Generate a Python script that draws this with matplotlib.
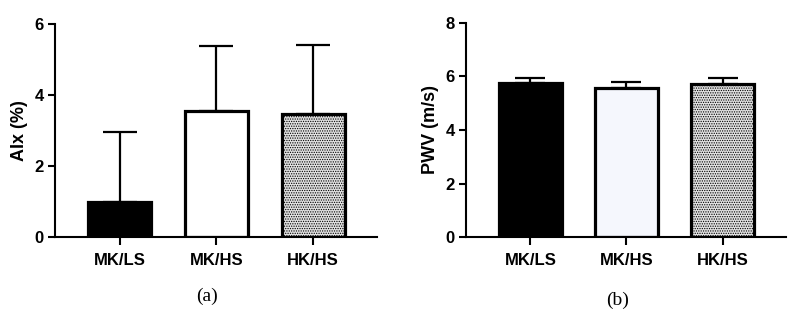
import matplotlib
matplotlib.use("Agg")
import matplotlib.pyplot as plt

groups = ["MK/LS", "MK/HS", "HK/HS"]
aix_mean = [0.99, 3.54, 3.46]
aix_sd = [1.98, 1.83, 1.96]
pwv_mean = [5.75, 5.57, 5.73]
pwv_sd = [0.17, 0.23, 0.22]

plt.rcParams['font.family'] = ['Liberation Sans', 'DejaVu Sans']
plt.rcParams['hatch.color'] = '#8a8a8a'
plt.rcParams['hatch.linewidth'] = 0.6

W, H = 797, 324
fig = plt.figure(figsize=(W / 100, H / 100), dpi=100)

def make_axes(x0, x1, ytop, ybot):
    return fig.add_axes([x0 / W, 1 - ybot / H, (x1 - x0) / W, (ybot - ytop) / H])

def draw(ax, means, sds, ymax, ylabel, faces, capsize):
    x = list(range(len(groups)))
    hatches = [None, None, '.......']
    for i in x:
        ax.bar(i, means[i], width=0.65, color=faces[i], edgecolor='black',
               linewidth=2.3, hatch=hatches[i], zorder=2)
    ax.errorbar(x, means, yerr=[[0] * len(sds), sds], fmt='none', ecolor='black',
                elinewidth=1.6, capsize=capsize, capthick=1.6, zorder=1)
    ax.set_xlim(-0.67, 2.66)
    ax.set_ylim(0, ymax)
    ax.set_yticks(range(0, ymax + 1, 2))
    ax.set_xticks(x)
    ax.set_xticklabels(groups, fontweight='bold', fontsize=12)
    for lab in ax.get_yticklabels():
        lab.set_fontweight('bold')
        lab.set_fontsize(12)
    ax.set_ylabel(ylabel, fontweight='bold', fontsize=13, labelpad=5)
    ax.spines['top'].set_visible(False)
    ax.spines['right'].set_visible(False)
    ax.spines['left'].set_linewidth(1.5)
    ax.spines['bottom'].set_linewidth(1.5)
    ax.tick_params(axis='both', width=1.5, length=5, direction='out', pad=3)
    ax.tick_params(axis='x', length=6, pad=5)

ax1 = make_axes(55, 377, 24, 237.3)
draw(ax1, aix_mean, aix_sd, 6, "AIx (%)", ['black', 'white', '#e2e2e2'], 12)

ax2 = make_axes(466, 786, 22.7, 237.3)
draw(ax2, pwv_mean, pwv_sd, 8, "PWV (m/s)", ['black', '#f5f7fd', '#e2e2e2'], 11)

fig.text(207 / W, 1 - 296 / H, "(a)", ha='center', va='center',
         fontsize=14, family=['Liberation Serif', 'DejaVu Serif'])
fig.text(618 / W, 1 - 300 / H, "(b)", ha='center', va='center',
         fontsize=14, family=['Liberation Serif', 'DejaVu Serif'])

fig.savefig("out.png", dpi=100, facecolor='white')
